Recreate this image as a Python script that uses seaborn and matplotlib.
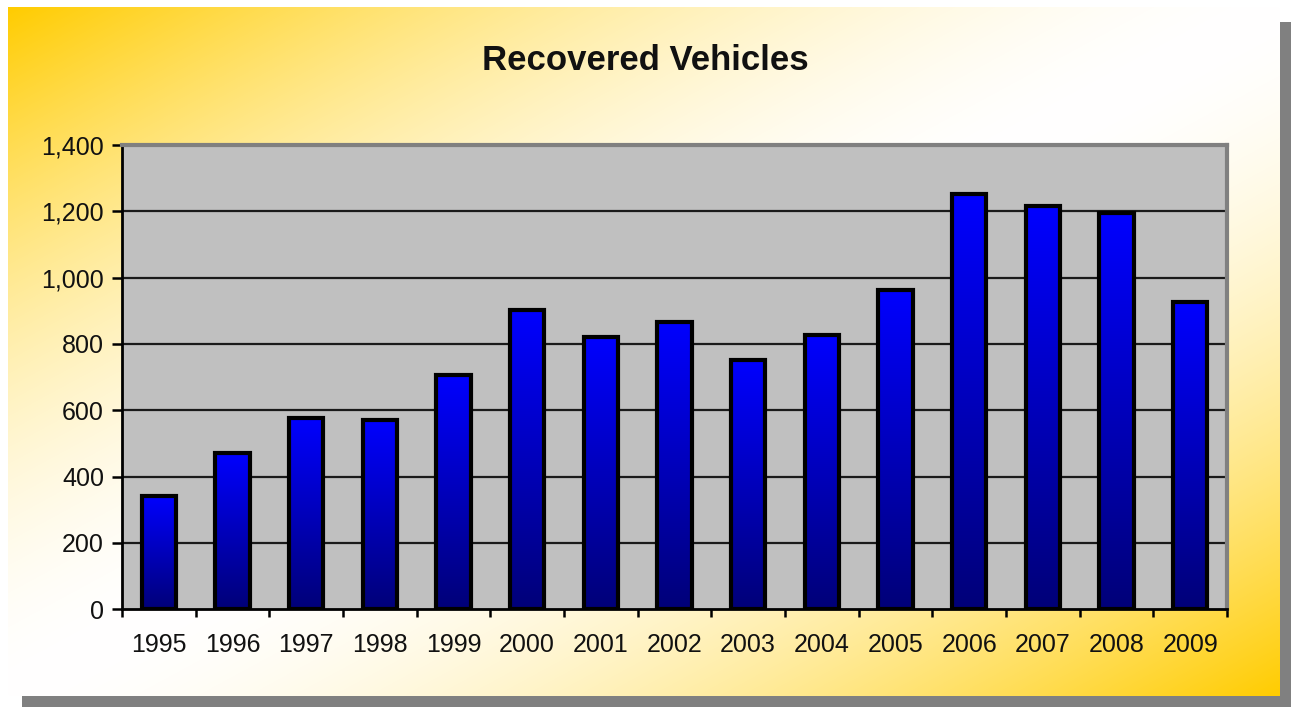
import numpy as np
import pandas as pd
import matplotlib
matplotlib.use("Agg")
import matplotlib.pyplot as plt
from matplotlib.colors import LinearSegmentedColormap
from matplotlib.patches import Rectangle
from matplotlib.ticker import FuncFormatter, FixedLocator
import seaborn as sns

# ---- data ----
years = ["1995", "1996", "1997", "1998", "1999", "2000", "2001", "2002",
         "2003", "2004", "2005", "2006", "2007", "2008", "2009"]
recovered = [343, 472, 578, 570, 707, 903, 822, 866,
             752, 828, 963, 1252, 1215, 1194, 926]
y_ticks = [0, 200, 400, 600, 800, 1000, 1200, 1400]
title = "Recovered Vehicles"

df = pd.DataFrame({"year": years, "value": recovered})

sns.set_theme(style="white")
plt.rcParams["font.family"] = ["Liberation Sans", "DejaVu Sans"]

W, H = 1291, 707
fig = plt.figure(figsize=(W / 100, H / 100), dpi=100)
fig.patch.set_facecolor("white")

# ---- background panel with diagonal gold-white-gold gradient and shadow ----
bg = fig.add_axes([0, 0, 1, 1], zorder=0)
bg.set_xlim(0, W)
bg.set_ylim(H, 0)
bg.axis("off")
bg.add_patch(Rectangle((22, 22), 1269, 685, facecolor="#808080", edgecolor="none", zorder=1))
px0, px1, py0, py1 = 8, 1280, 7, 696
gw, gh = px1 - px0, py1 - py0
u = np.linspace(0, 1, gw)[None, :]
v = np.linspace(0, 1, gh)[:, None]
t = (u + v) / 2.0
s = np.abs(2 * t - 1) ** 1.7
gold = np.array([255, 204, 0]) / 255.0
white = np.array([1.0, 1.0, 1.0])
img = white[None, None, :] * (1 - s[..., None]) + gold[None, None, :] * s[..., None]
bg.imshow(img, extent=[px0, px1, py1, py0], aspect="auto", zorder=2, interpolation="bilinear")
bg.set_xlim(0, W)
bg.set_ylim(H, 0)

# ---- main chart ----
ax = fig.add_axes([122 / W, 1 - 609.3 / H, (1227 - 122) / W, (609.3 - 145) / H], zorder=1)
ax.set_facecolor("#C0C0C0")
sns.barplot(data=df, x="year", y="value", ax=ax, width=0.47, color="#0000FF",
            edgecolor="black", linewidth=3, zorder=3)

cmap = LinearSegmentedColormap.from_list("bluegrad", ["#000078", "#0000FF"])
grad = np.linspace(0, 1, 256).reshape(-1, 1)
for p in ax.patches:
    x0, y0 = p.get_x(), p.get_y()
    w, h = p.get_width(), p.get_height()
    ax.imshow(grad, extent=[x0, x0 + w, y0, y0 + h], origin="lower", aspect="auto",
              cmap=cmap, zorder=2.9, interpolation="bilinear")
    p.set_facecolor("none")

ax.set_xlim(-0.5, len(years) - 0.5)
ax.set_ylim(0, 1400)
ax.set_yticks(y_ticks)
ax.yaxis.set_major_formatter(FuncFormatter(lambda val, pos: f"{int(val):,}"))
ax.set_xlabel("")
ax.set_ylabel("")

for yv in y_ticks[1:-1]:
    ax.axhline(yv, color="#1a1a1a", lw=1.6, zorder=1)

ax.xaxis.set_minor_locator(FixedLocator(np.arange(-0.5, len(years), 1.0)))
ax.tick_params(axis="x", which="major", length=0, pad=17, labelsize=18, colors="#111111")
ax.tick_params(axis="x", which="minor", length=6, width=1.8, color="black", direction="out", bottom=True)
ax.tick_params(axis="y", which="major", length=7, width=1.8, color="black", direction="out",
               left=True, pad=6, labelsize=18, labelcolor="#111111")

for side in ["left", "bottom"]:
    ax.spines[side].set_color("black")
    ax.spines[side].set_linewidth(2)
for side in ["top", "right"]:
    ax.spines[side].set_color("#808080")
    ax.spines[side].set_linewidth(3)
    ax.spines[side].set_visible(True)

fig.text(0.5, 1 - 60 / H, title, ha="center", va="center", fontsize=25,
         fontweight="bold", color="#111111")

fig.savefig("out.png", dpi=100)
